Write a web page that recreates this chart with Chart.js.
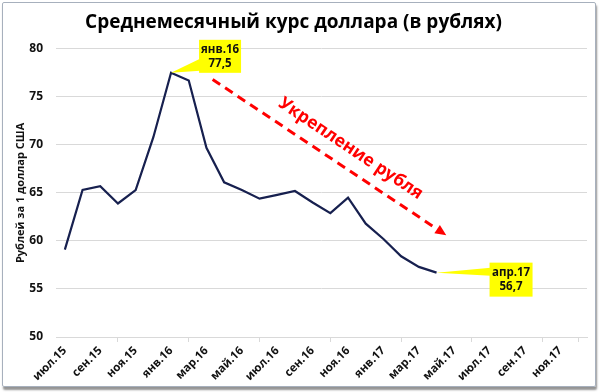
<!DOCTYPE html>
<html>
<head>
<meta charset="utf-8">
<script src="https://cdn.jsdelivr.net/npm/chart.js@4.4.1/dist/chart.umd.min.js"></script>
<style>
  html, body { margin: 0; padding: 0; background: #fff; }
  #wrap { position: relative; width: 600px; height: 392px; }
  #frame {
    position: absolute; left: 2px; top: 2px; width: 592px; height: 383px;
    border: 1px solid #a7b0bd; border-radius: 2px;
    box-shadow: 1px 3px 2px rgba(60, 60, 60, 0.55);
    pointer-events: none;
  }
</style>
</head>
<body>
<div id="wrap">
  <canvas id="myChart" width="600" height="392"></canvas>
  <div id="frame"></div>
</div>
<script>
  const FONT = "'Open Sans', 'DejaVu Sans', sans-serif";

  const TITLE = 'Среднемесячный курс доллара (в рублях)';
  const Y_TITLE = 'Рублей за 1 доллар США';
  const TREND_TEXT = 'Укрепление рубля';

  // months on the axis (Jul 2015 - Dec 2017)
  const months = [
    'июл.15', 'авг.15', 'сен.15', 'окт.15', 'ноя.15', 'дек.15',
    'янв.16', 'фев.16', 'мар.16', 'апр.16', 'май.16', 'июн.16',
    'июл.16', 'авг.16', 'сен.16', 'окт.16', 'ноя.16', 'дек.16',
    'янв.17', 'фев.17', 'мар.17', 'апр.17', 'май.17', 'июн.17',
    'июл.17', 'авг.17', 'сен.17', 'окт.17', 'ноя.17', 'дек.17'
  ];
  // average monthly rate, RUB per USD (Jul 2015 - Apr 2017)
  const rates = [
    59.1, 65.3, 65.7, 63.9, 65.3, 70.8,
    77.5, 76.7, 69.7, 66.1, 65.3, 64.4,
    64.8, 65.2, 64.0, 62.9, 64.5, 61.8,
    60.2, 58.4, 57.3, 56.7
  ];
  const yTicks = [50, 55, 60, 65, 70, 75, 80];

  // trend arrow, in axis units: [month index, rate]
  const trendFrom = [8.35, 76.8];
  const trendTo = [21.55, 60.6];
  const trendLabelAt = [16.15, 69.6];

  const peakIdx = rates.indexOf(Math.max(...rates));
  const lastIdx = rates.length - 1;
  const fmt = v => String(v.toFixed(1)).replace('.', ',');

  // yellow callouts: data index, box offset from the point, wedge base on the box's left edge
  const callouts = [
    {idx: peakIdx, dx: 28, dy: -33, w: 42, h: 33, wedge: [19, 31]},
    {idx: lastIdx, dx: 53, dy: -10, w: 43, h: 34, wedge: [5, 13]}
  ];

  const decorPlugin = {
    id: 'decor',
    afterDatasetsDraw(chart) {
      const {ctx, scales: {x, y}} = chart;
      const pts = chart.getDatasetMeta(0).data;

      // dashed trend arrow
      const x1 = x.getPixelForValue(trendFrom[0]), y1 = y.getPixelForValue(trendFrom[1]);
      const x2 = x.getPixelForValue(trendTo[0]), y2 = y.getPixelForValue(trendTo[1]);
      const ang = Math.atan2(y2 - y1, x2 - x1);
      const head = 11;
      ctx.save();
      ctx.strokeStyle = '#ff0000';
      ctx.fillStyle = '#ff0000';
      ctx.lineWidth = 3;
      ctx.setLineDash([9, 6]);
      ctx.beginPath();
      ctx.moveTo(x1, y1);
      ctx.lineTo(x2 - head * Math.cos(ang), y2 - head * Math.sin(ang));
      ctx.stroke();
      ctx.setLineDash([]);
      ctx.beginPath();
      ctx.moveTo(x2, y2);
      ctx.lineTo(x2 - head * Math.cos(ang) + 5 * Math.sin(ang), y2 - head * Math.sin(ang) - 5 * Math.cos(ang));
      ctx.lineTo(x2 - head * Math.cos(ang) - 5 * Math.sin(ang), y2 - head * Math.sin(ang) + 5 * Math.cos(ang));
      ctx.closePath();
      ctx.fill();

      // rotated label above the arrow
      ctx.translate(x.getPixelForValue(trendLabelAt[0]), y.getPixelForValue(trendLabelAt[1]));
      ctx.rotate(ang);
      ctx.font = 'bold 17.5px ' + FONT;
      ctx.textAlign = 'center';
      ctx.textBaseline = 'middle';
      ctx.fillText(TREND_TEXT, 0, 0);
      ctx.restore();

      // callouts
      callouts.forEach(c => {
        const p = pts[c.idx];
        const bx = p.x + c.dx, by = p.y + c.dy;
        ctx.save();
        ctx.fillStyle = '#ffff00';
        ctx.beginPath();
        ctx.moveTo(p.x, p.y);
        ctx.lineTo(bx + 1, by + c.wedge[0]);
        ctx.lineTo(bx + 1, by + c.wedge[1]);
        ctx.closePath();
        ctx.fill();
        ctx.fillRect(bx, by, c.w, c.h);
        ctx.fillStyle = '#111';
        ctx.font = 'bold 11.5px ' + FONT;
        ctx.textAlign = 'center';
        ctx.textBaseline = 'middle';
        ctx.fillText(months[c.idx], bx + c.w / 2, by + 10);
        ctx.fillText(fmt(rates[c.idx]), bx + c.w / 2, by + 24);
        ctx.restore();
      });
    }
  };

  const ctx = document.getElementById('myChart').getContext('2d');
  new Chart(ctx, {
    type: 'line',
    data: {
      labels: months,
      datasets: [{
        label: 'USD/RUB',
        data: rates,
        borderColor: '#17204f',
        borderWidth: 2.2,
        pointRadius: 0,
        tension: 0,
        fill: false
      }]
    },
    options: {
      responsive: false,
      animation: false,
      events: [],
      layout: {padding: {left: 0, right: 13, top: 0, bottom: 0}},
      plugins: {
        legend: {display: false},
        tooltip: {enabled: false},
        title: {
          display: true,
          text: TITLE,
          color: '#000',
          font: {family: FONT, size: 19, weight: 'bold'},
          padding: {top: 11, bottom: 15}
        }
      },
      scales: {
        x: {
          offset: true,
          afterFit: s => { s.height = 55; },
          grid: {
            offset: true,
            drawOnChartArea: false,
            drawTicks: true,
            tickLength: 5,
            color: c => (c.index === undefined || c.index % 2 === 0) ? '#d9d9d9' : 'rgba(0,0,0,0)'
          },
          border: {display: true, color: '#d9d9d9'},
          ticks: {
            autoSkip: false,
            minRotation: 45,
            maxRotation: 45,
            padding: 2,
            color: '#111',
            font: {family: FONT, size: 11.5, weight: 'bold'},
            callback: (v, i) => i % 2 === 0 ? months[i] : null
          }
        },
        y: {
          min: yTicks[0],
          max: yTicks[yTicks.length - 1],
          afterFit: s => { s.width = 56; },
          afterBuildTicks: s => { s.ticks = yTicks.map(v => ({value: v})); },
          grid: {color: '#d9d9d9', drawTicks: false},
          border: {display: false},
          ticks: {
            padding: 13,
            color: '#111',
            font: {family: FONT, size: 12, weight: 'bold'}
          },
          title: {
            display: true,
            text: Y_TITLE,
            color: '#111',
            font: {family: FONT, size: 11, weight: 'bold'},
            padding: {top: 14, bottom: 0}
          }
        }
      }
    },
    plugins: [decorPlugin]
  });
</script>
</body>
</html>
